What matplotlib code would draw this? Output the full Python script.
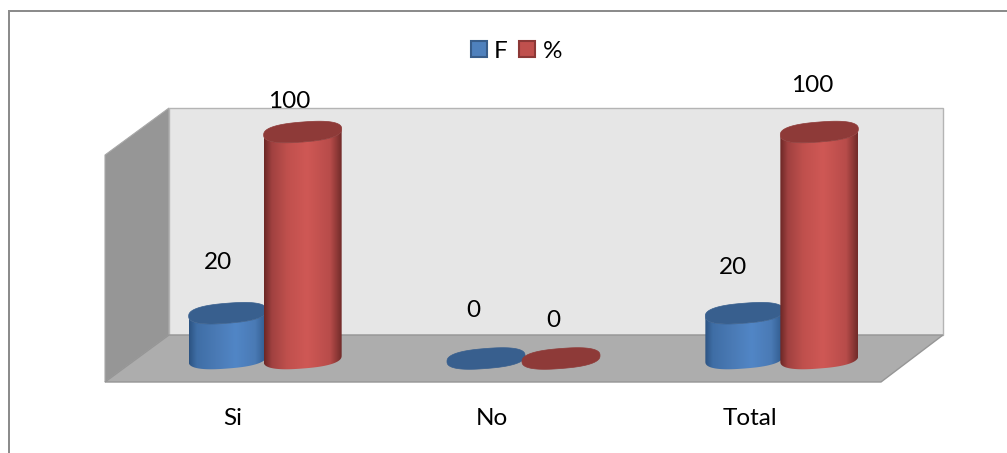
import numpy as np
import matplotlib
matplotlib.use('Agg')
import matplotlib.pyplot as plt
from matplotlib.colors import LinearSegmentedColormap
from matplotlib.patches import Polygon, Patch

categories = ['Si', 'No', 'Total']
f_values = [20, 0, 20]
pct_values = [100, 0, 100]

W, H = 1007, 453
plt.rcParams['font.family'] = ['Lato', 'DejaVu Sans']

fig = plt.figure(figsize=(W / 100, H / 100), dpi=100, facecolor='white')

# background layer in pixel units: frame, walls and floor
bg = fig.add_axes([0, 0, 1, 1])
bg.set_xlim(0, W)
bg.set_ylim(H, 0)
bg.axis('off')
bg.plot([9, 9, W], [H, 11, 11], color='#8c8c8c', lw=1.44, solid_joinstyle='miter')
bg.add_patch(Polygon([(105, 155), (169, 108), (169, 335), (105, 382)], fc='#969696', ec='#a8a8a8', lw=0.8))
bg.add_patch(Polygon([(169, 108), (943, 108), (943, 335), (169, 335)], fc='#e6e6e6', ec='#b4b4b4', lw=1))
bg.add_patch(Polygon([(105, 382), (169, 335), (943, 335), (881, 382)], fc='#adadad', ec='#969696', lw=1))

# value axes: categories on x, 0-100 on y
left, right = 136.0, 911.0
base, top = 358.5, 132.0
ax = fig.add_axes([left / W, 1 - base / H, (right - left) / W, (base - top) / H])
ax.patch.set_alpha(0)
ax.axis('off')
ax.set_xlim(-0.5, 2.5)
ax.set_ylim(0, 100)

px_x = 3 / (right - left)
px_y = 100 / (base - top)
half_w = 39 * px_x
half_h = 10 * px_y
tilt = 3 * px_y
offset = 37.5 * px_x

t = np.linspace(0, 2 * np.pi, 181)
# slightly squared-off rim, fuller than a true ellipse
cos_t = np.sign(np.cos(t)) * np.abs(np.cos(t)) ** 0.8
sin_t = np.sign(np.sin(t)) * np.abs(np.sin(t)) ** 0.8


def rim(cx, y):
    return cx + half_w * cos_t, y + half_h * sin_t + tilt * cos_t


def cylinder(cx, value, cmap, top_color):
    ex, ey = rim(cx, 0)
    if value > 0:
        # body outline: lower half of the base plus the same curve raised to the top
        lower = sin_t <= 0
        order = np.argsort(ex[lower])
        bx = ex[lower][order]
        by = ey[lower][order]
        outline = np.column_stack([np.r_[bx, bx[::-1]], np.r_[by, by[::-1] + value]])
        body = Polygon(outline, closed=True, fc='none', ec='none', clip_on=False)
        ax.add_patch(body)
        im = ax.imshow(np.linspace(0, 1, 256)[None, :], cmap=cmap, aspect='auto', zorder=2,
                       extent=[cx - half_w, cx + half_w, -half_h * 2, value + half_h])
        # the base hangs below the axes box, so widen the image clip to the figure
        im.set_clip_box(fig.bbox)
        im.set_clip_path(body)
    tx, ty = rim(cx, value)
    ax.fill(tx, ty, fc=top_color, ec=top_color, lw=0.5, zorder=2, clip_on=False)


blue_map = LinearSegmentedColormap.from_list('blue', [(0, '#2c5382'), (0.1, '#3f6ea6'), (0.35, '#4a7ab5'),
                                                      (0.6, '#5186c6'), (0.85, '#4a7ab5'), (1, '#2f5a8c')])
red_map = LinearSegmentedColormap.from_list('red', [(0, '#6b2725'), (0.1, '#a04140'), (0.3, '#c0504d'),
                                                    (0.55, '#cf5855'), (0.85, '#b84c4a'), (1, '#702b29')])
blue_top = '#385f8e'
red_top = '#8e3a38'

for i, fv in enumerate(f_values):
    cylinder(i - offset, fv, blue_map, blue_top)

for i, pv in enumerate(pct_values):
    cylinder(i + offset, pv, red_map, red_top)

ax.set_xlim(-0.5, 2.5)
ax.set_ylim(0, 100)

# value labels sit at uneven heights, nudged by hand
f_offsets = [(-10, 51), (-13, 48), (-11, 46)]
pct_offsets = [(-13, 31), (-8, 38), (-7, 46)]
for i in range(3):
    ax.annotate(str(f_values[i]), (i - offset, f_values[i]), xytext=f_offsets[i], textcoords='offset pixels',
                ha='center', va='center', fontsize=17.5, color='black', annotation_clip=False)
    ax.annotate(str(pct_values[i]), (i + offset, pct_values[i]), xytext=pct_offsets[i], textcoords='offset pixels',
                ha='center', va='center', fontsize=17.5, color='black', annotation_clip=False)

for i, cat in enumerate(categories):
    ax.annotate(cat, (i, 0), xytext=(-32, -60), textcoords='offset pixels',
                ha='center', va='center', fontsize=17.5, color='black', annotation_clip=False)

handles = [Patch(fc='#4f81bd', ec='#385d8a', lw=1.5, label='F'),
           Patch(fc='#c0504d', ec='#8c3836', lw=1.5, label='%')]
fig.legend(handles=handles, loc='center', bbox_to_anchor=(516.5 / W, 1 - 51 / H), ncol=2, frameon=False,
           fontsize=17.5, handlelength=0.66, handleheight=0.66, handletextpad=0.3, columnspacing=0.47)

fig.savefig('out.png', dpi=100)
